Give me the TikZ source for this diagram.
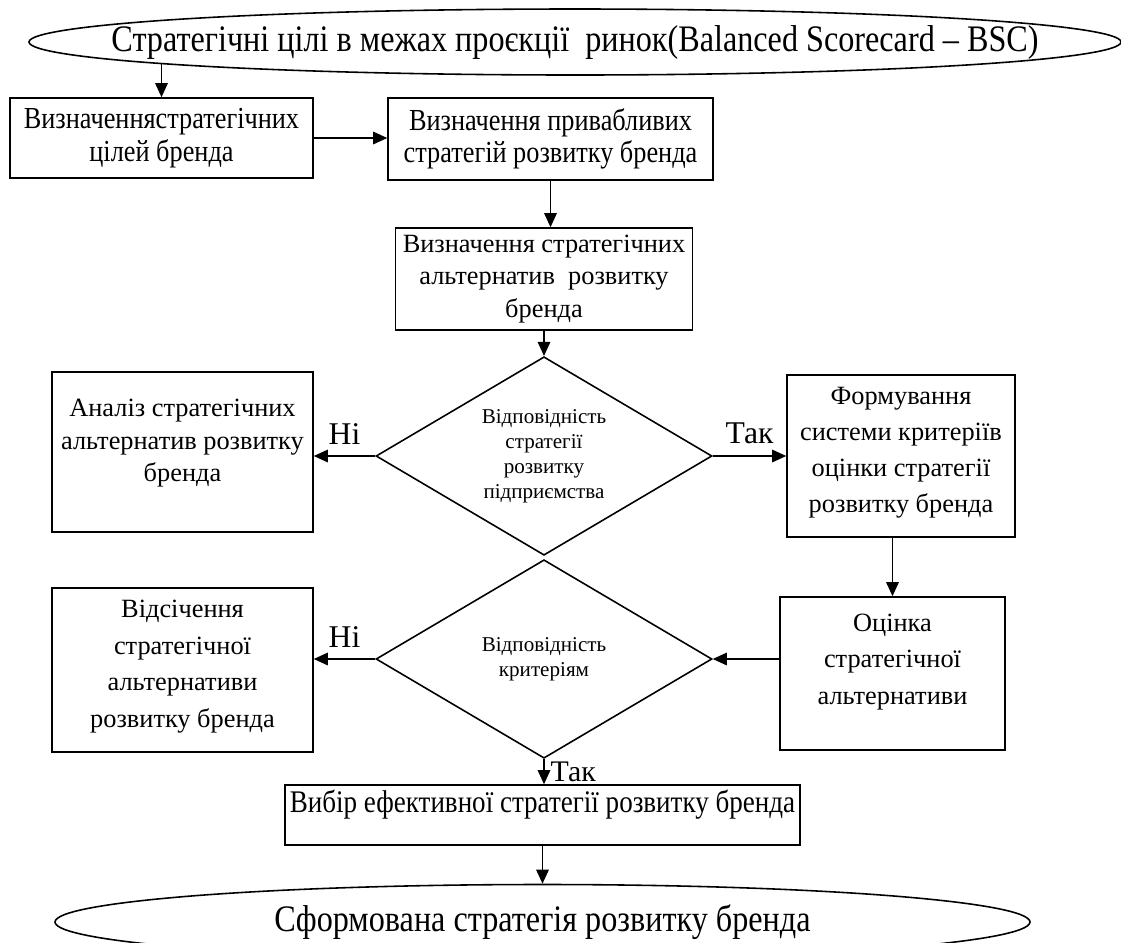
\documentclass[tikz,border=0pt]{standalone}
\usepackage{fontspec}
\setmainfont{Liberation Serif}
\newfontfamily\narrowserif[FakeStretch=0.86]{Liberation Serif}
\usetikzlibrary{shapes.geometric, arrows.meta, calc}

\tikzset{
  stage/.style={draw, line width=0.9pt, align=center, inner sep=2pt, font=\fontsize{15}{18.5}\selectfont},
  tallstage/.style={stage, font=\fontsize{15}{21}\selectfont},
  narrowstage/.style={stage, font=\narrowserif\fontsize{17.4}{18.5}\selectfont},
  choice/.style={draw, diamond, line width=0.9pt, align=center, inner sep=0pt, aspect=1.7, minimum width=6.72cm, minimum height=3.97cm, font=\fontsize{12}{14.3}\selectfont},
  goalshape/.style={draw, ellipse, line width=0.9pt, inner sep=0pt, font=\narrowserif\fontsize{21.3}{24}\selectfont},
  arr/.style={line width=0.8pt, -{Triangle[length=2.8mm, width=2.5mm]}},
  answer/.style={font=\fontsize{18}{20}\selectfont}
}

\begin{document}
\begin{tikzpicture}
          \useasboundingbox (0,0) rectangle (22.42,-18.84);
          \clip (0,0) rectangle (22.42,-18.84);
          \node[goalshape, inner xsep=-1.8cm, minimum width=21.84cm, minimum height=1.32cm] (goal) at (11.5,-0.84) {Стратегічні цілі в межах проєкції\ \ ринок(Balanced Scorecard – BSC)};
          \node[narrowstage, minimum width=6.06cm, minimum height=1.6cm] (aims) at (3.23,-2.76) {Визначеннястратегічних\\цілей бренда};
          \node[narrowstage, minimum width=6.5cm, minimum height=1.64cm] (attractive) at (11.01,-2.78) {Визначення привабливих\\стратегій розвитку бренда};
          \node[stage, minimum width=5.94cm, minimum height=2.04cm] (alternatives) at (10.88,-5.58) {Визначення стратегічних\\альтернатив\ \ розвитку\\бренда};
          \node[choice] (fitfirm) at (10.88,-9.12) {Відповідність\\стратегії\\розвитку\\підприємства};
          \node[stage, minimum width=5.22cm, minimum height=3.2cm, text depth=0.46cm] (analysis) at (3.65,-9.04) {Аналіз стратегічних\\альтернатив розвитку\\бренда};
          \node[stage, font=\fontsize{15}{20.5}\selectfont, minimum width=4.56cm, minimum height=3.24cm, text depth=0.26cm] (criteria) at (18.02,-9.12) {Формування\\системи критеріїв\\оцінки стратегії\\розвитку бренда};
          \node[tallstage, minimum width=4.5cm, minimum height=3.06cm, text depth=0.57cm] (rating) at (17.85,-13.47) {Оцінка\\стратегічної\\альтернативи};
          \node[choice] (fitcrit) at (10.88,-13.18) {Відповідність\\критеріям};
          \node[tallstage, minimum width=5.22cm, minimum height=3.28cm, text depth=0.25cm] (rejection) at (3.65,-13.4) {Відсічення\\стратегічної\\альтернативи\\розвитку бренда};
          \node[narrowstage, minimum width=10.3cm, minimum height=1.2cm, text depth=0.55cm, font=\narrowserif\fontsize{17.9}{18}\selectfont] (choose) at (10.85,-16.3) {Вибір ефективної стратегії розвитку бренда};
          \node[goalshape, minimum width=19.5cm, minimum height=1.5cm] (result) at (10.85,-18.44) {Сформована стратегія розвитку бренда};

          \draw[arr] ([yshift=-0.43cm]goal.center -| aims.north) -- (aims.north);
          \draw[arr] (aims.east) -- (aims.east -| attractive.west);
          \draw[arr] (attractive.south) -- (attractive.south |- alternatives.north);
          \draw[arr] (alternatives.south) -- (fitfirm.north);
          \draw[arr] (fitfirm.west) -- (fitfirm.west -| analysis.east) node[answer, midway, above=3pt] (no1) {Ні};
          \draw[arr] (fitfirm.east) -- (fitfirm.east -| criteria.west) node[answer, midway, above=3pt] (yes1) {Так};
          \draw[arr] (rating.north |- criteria.south) -- (rating.north);
          \draw[arr] (rating.west |- fitcrit.east) -- (fitcrit.east);
          \draw[arr] (fitcrit.west) -- (fitcrit.west -| rejection.east) node[answer, midway, above=3pt] (no2) {Ні};
          \draw[arr] (fitcrit.south) -- (fitcrit.south |- choose.north) node[answer, font=\fontsize{17}{18}\selectfont, midway, right=0pt] (yes2) {Так};
          \draw[arr] (choose.south) -- (result.north);
        \end{tikzpicture}
\end{document}
